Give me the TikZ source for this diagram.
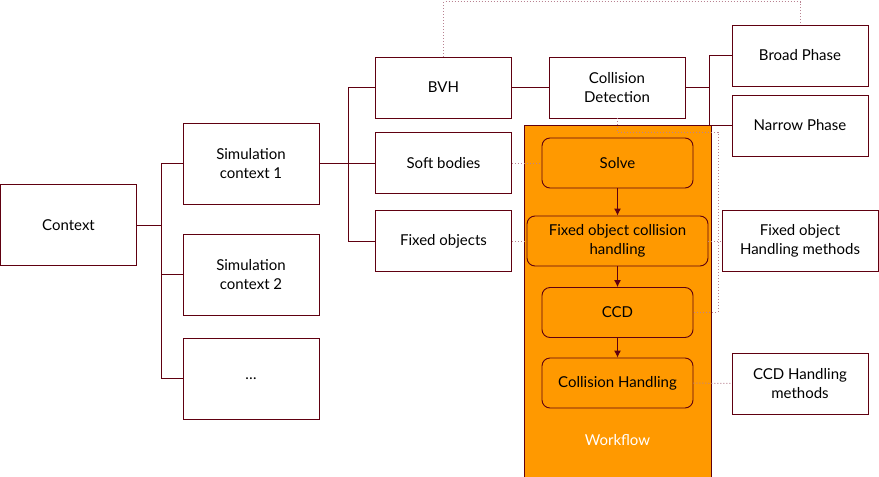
\documentclass[tikz,border=0pt]{standalone}
\usepackage{fontspec}
\setmainfont{Lato}
\usepackage{xcolor}
\usepackage{tikz}
\usetikzlibrary{positioning, arrows.meta}
\definecolor{wine}{RGB}{96,0,16}
\definecolor{flow}{RGB}{255,153,0}
\definecolor{dotline}{RGB}{185,130,145}

\begin{document}
\begin{tikzpicture}[x=1pt, y=-1pt, font=\fontsize{15}{19}\selectfont,
	box/.style={draw=wine, fill=white, line width=0.9pt, minimum width=136pt, minimum height=61pt, inner sep=0pt, align=center},
	bigbox/.style={box, minimum height=81pt},
	stepbox/.style={draw=wine, fill=flow, line width=0.9pt, rounded corners=8pt, minimum width=151pt, minimum height=50pt, inner sep=0pt, align=center},
	link/.style={draw=wine, line width=0.9pt},
	dots/.style={draw=dotline, dotted, line width=1pt},
	flowarrow/.style={draw=wine, line width=0.9pt, -{Latex[length=7pt, width=7pt]}}]
			\useasboundingbox (0,0) rectangle (879,477);

			% context tree
			\node[bigbox] (ctx) at (68.5,225) {Context};
			\node[bigbox] (sim1) at (251,163.5) {Simulation\\context 1};
			\node[bigbox] (sim2) at (251,274.5) {Simulation\\context 2};
			\node[bigbox] (more) at (251,378.5) {\dots};

			\node[box] (bvh) at (443.5,87.5) {BVH};
			\node[box] (soft) at (443.5,163) {Soft bodies};
			\node[box] (fixed) at (443.5,241) {Fixed objects};
			\node[box] (cd) at (617,87.5) {Collision\\Detection};
			\node[box] (broad) at (800,55.5) {Broad Phase};
			\node[box] (narrow) at (800,125.5) {Narrow Phase};
			\node[box, minimum width=156pt] (fohm) at (800,241) {Fixed object\\Handling methods};
			\node[box] (ccdhm) at (800,383.5) {CCD Handling\\methods};

			% workflow
			\node[draw=wine, fill=flow, line width=0.9pt, minimum width=187pt, minimum height=352pt] (workflow) at (617.5,301) {};
			\node[stepbox] (solve) at (617.5,163) {Solve};
			\node[stepbox, minimum width=181pt] (foch) at (617.5,241) {Fixed object collision\\handling};
			\node[stepbox] (ccd) at (617.5,312.5) {CCD};
			\node[stepbox] (colh) at (617.5,383) {Collision Handling};
			\node[text=white] (wflabel) at (617.5,440) {Workflow};

			\draw[flowarrow] (solve) -- (foch);
			\draw[flowarrow] (foch) -- (ccd);
			\draw[flowarrow] (ccd) -- (colh);

			% tree links
			\draw[link] (ctx.east) -- ++(24,0) coordinate (j1);
			\draw[link] (j1) |- (sim1.west);
			\draw[link] (j1) |- (sim2.west);
			\draw[link] (j1) |- (more.west);
			\draw[link] (sim1.east) -- ++(29,0) coordinate (j2);
			\draw[link] (j2) |- (bvh.west);
			\draw[link] (j2) |- (soft.west);
			\draw[link] (j2) |- (fixed.west);
			\draw[link] (bvh) -- (cd);
			\draw[link] (cd.east) -- ++(24,0) coordinate (j3);
			\draw[link] (j3) |- (broad.west);
			\draw[link] (j3) |- (narrow.west);

			% dotted relations
			\coordinate (k1) at (718,132);
			\draw[dots] (bvh.north) -- ++(0,-55) -| (broad.north);
			\draw[dots] (cd.south) |- (k1) |- (ccd.east);
			\draw[dots] (soft) -- (solve);
			\draw[dots] (fixed) -- (foch);
			\draw[dots] (foch) -- (fohm);
			\draw[dots] (colh) -- (ccdhm);
		\end{tikzpicture}
\end{document}
